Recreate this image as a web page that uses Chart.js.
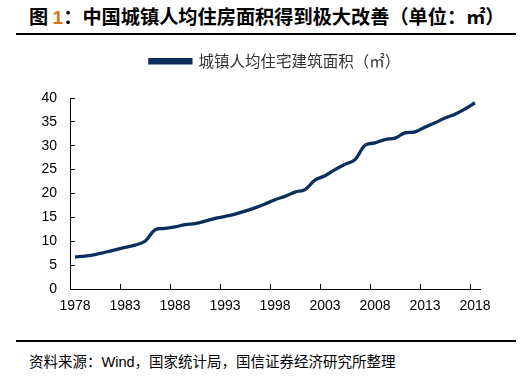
<!DOCTYPE html>
<html lang="zh">
<head>
  <meta charset="utf-8" />
  <title>中国城镇人均住房面积</title>
  <script src="https://cdn.jsdelivr.net/npm/chart.js"></script>
  <style>
    html, body {
      margin: 0;
      background: #fff;
      width: 521px;
      height: 386px;
      overflow: hidden;
      font-family: "Noto Sans CJK SC", sans-serif;
    }
    .title {
      position: absolute; left: 29px; top: 2px;
      font-size: 19.2px; font-weight: bold; color: #000; white-space: nowrap;
    }
    .title .num { color: #d07a14; font-family: "Liberation Sans", Arial, sans-serif; }
    .rule { position: absolute; left: 16px; width: 500px; height: 1.5px; background: #000; z-index: 5; }
    .source {
      position: absolute; left: 29px; top: 350px;
      font-size: 14.5px; color: #000; white-space: nowrap;
    }
    .source .en { font-family: "Liberation Sans", Arial, sans-serif; }
    #wrap { position: absolute; left: 0; top: 40px; width: 521px; height: 290px; }
  </style>
</head>
<body>
  <div class="title">图 <span class="num">1</span>：中国城镇人均住房面积得到极大改善（单位：㎡）</div>
  <div id="wrap"><canvas id="c"></canvas></div>
  <div class="rule" style="top:33px"></div>
  <div class="rule" style="top:340px"></div>
  <div class="source">资料来源：<span class="en">Wind</span>，国家统计局，国信证券经济研究所整理</div>

  <script>
    // 年份
    const years = [
      '1978', '1979', '1980', '1981', '1982', '1983', '1984', '1985', '1986', '1987',
      '1988', '1989', '1990', '1991', '1992', '1993', '1994', '1995', '1996', '1997',
      '1998', '1999', '2000', '2001', '2002', '2003', '2004', '2005', '2006', '2007',
      '2008', '2009', '2010', '2011', '2012', '2013', '2014', '2015', '2016', '2017',
      '2018'
    ];
    // 城镇人均住宅建筑面积（㎡）
    const area = [
      6.7, 6.9, 7.2, 7.7, 8.2, 8.7, 9.2, 10.0, 12.4, 12.7,
      13.0, 13.5, 13.7, 14.2, 14.8, 15.2, 15.7, 16.3, 17.0, 17.8,
      18.7, 19.4, 20.3, 20.8, 22.8, 23.7, 25.0, 26.1, 27.1, 30.1,
      30.6, 31.3, 31.6, 32.7, 32.9, 33.9, 34.8, 35.8, 36.6, 37.7,
      39.0
    ];
    const yTicks = [0, 5, 10, 15, 20, 25, 30, 35, 40];
    const seriesName = '城镇人均住宅建筑面积（㎡）';

    const navy = '#0a2f5c';
    const numFont = { family: '"Liberation Sans", Arial, sans-serif', size: 14 };

    // nudge the legend up and right after layout, leaving the plot where it is
    const legendNudge = {
      id: 'legendNudge',
      afterLayout(chart) {
        const lg = chart.legend;
        if (!lg) return;
        lg.top -= 19; lg.bottom -= 19;
        lg.left += 35; lg.right += 35;
      }
    };

    new Chart(document.getElementById('c'), {
      type: 'line',
      data: {
        labels: years,
        datasets: [{
          label: seriesName,
          data: area,
          borderColor: navy,
          backgroundColor: navy,
          borderWidth: 3.3,
          pointRadius: 0,
          tension: 0.4
        }]
      },
      options: {
        responsive: true,
        maintainAspectRatio: false,
        animation: false,
        layout: { padding: { top: 22.5, left: 0, right: 41, bottom: 0 } },
        plugins: {
          legend: {
            position: 'top',
            labels: {
              boxWidth: 41,
              boxHeight: 3,
              padding: 10,
              color: '#333',
              font: { family: '"Noto Sans CJK SC", sans-serif', size: 15.5 }
            }
          },
          tooltip: { enabled: false }
        },
        scales: {
          x: {
            type: 'category',
            offset: true,
            border: { color: '#000', width: 1 },
            grid: {
              offset: true,
              drawOnChartArea: false,
              tickLength: -5,
              tickWidth: 1,
              tickColor: ctx => (ctx.index % 5 === 0 ? '#000' : 'rgba(0,0,0,0)')
            },
            ticks: {
              autoSkip: false,
              maxRotation: 0,
              padding: 14,
              color: '#000',
              font: numFont,
              callback: (v, i) => (i % 5 === 0 ? years[i] : '')
            },
            afterFit: s => { s.height = 41; }
          },
          y: {
            min: 0,
            max: 40,
            border: { color: '#000', width: 1 },
            grid: { drawOnChartArea: false, tickLength: -5, tickWidth: 1, tickColor: '#000' },
            afterBuildTicks: s => { s.ticks = yTicks.map(v => ({ value: v })); },
            ticks: { padding: 18, color: '#000', font: numFont },
            afterFit: s => { s.width = 70; }
          }
        }
      },
      plugins: [legendNudge]
    });
  </script>
</body>
</html>
